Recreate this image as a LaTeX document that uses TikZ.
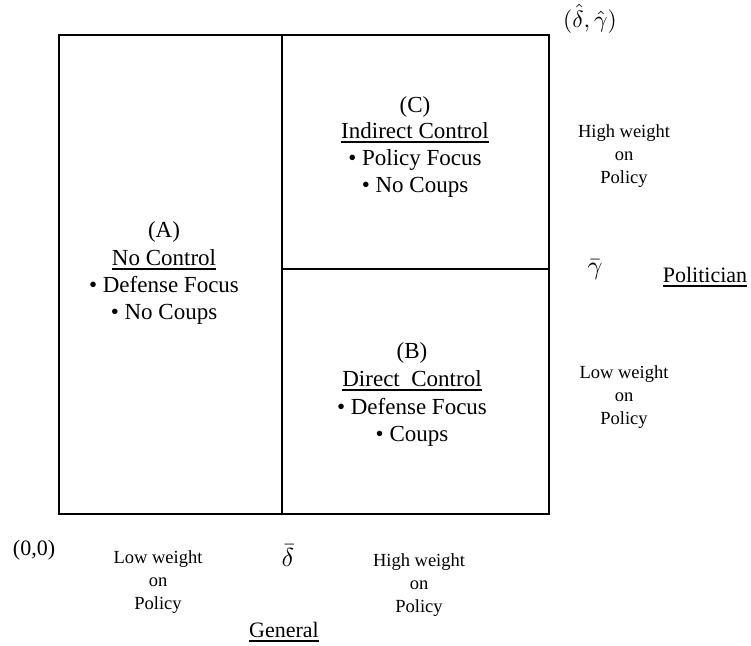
\documentclass[tikz,border=0pt]{standalone}
\usepackage{fontspec}
\setmainfont{Liberation Serif}
\newcommand{\myul}[1]{\leavevmode\setbox0\hbox{#1}\rlap{\vrule height -3pt depth 4.8pt width \wd0}\box0}
\newcommand{\bigmath}[2]{\scalebox{#1}{\fontsize{10}{12}\selectfont$#2$}}
\begin{document}
\begin{tikzpicture}[x=1pt,y=-1pt,
  frame/.style={line width=2pt, line cap=rect},
  big/.style={anchor=base, inner sep=0pt, font=\fontsize{23}{27}\selectfont},
  lab/.style={anchor=base, inner sep=0pt, font=\fontsize{22}{26}\selectfont},
  small/.style={anchor=base, inner sep=0pt, font=\fontsize{18.5}{22}\selectfont}]
\useasboundingbox (0,0) rectangle (751,645);
% frame
\coordinate (tl) at (59,35);
\coordinate (br) at (549,514);
\coordinate (mt) at (282,35);
\coordinate (mb) at (282,514);
\coordinate (hl) at (282,269);
\coordinate (hr) at (549,269);
\draw[frame] (tl) rectangle (br);
\draw[frame] (mt) -- (mb);
\draw[frame] (hl) -- (hr);
% corner label
\node[lab] (top) at (590,27) {\bigmath{2.35}{(\hat{\delta},\hat{\gamma})}};
% box A
\node[big] (a1) at (164,237) {(A)};
\node[big] (a2) at (164,265) {\myul{No Control}};
\node[big] (a3) at (164,292) {•~Defense Focus};
\node[big] (a4) at (164,319) {•~No Coups};
% box C
\node[big] (c1) at (415,112) {(C)};
\node[big] (c2) at (415,138) {\myul{Indirect Control}};
\node[big] (c3) at (415,165) {•~Policy Focus};
\node[big] (c4) at (415,192) {•~No Coups};
% box B
\node[big] (b1) at (412,358) {(B)};
\node[big] (b2) at (412,386) {\myul{Direct\ \ Control}};
\node[big] (b3) at (412,414) {•~Defense Focus};
\node[big] (b4) at (412,441) {•~Coups};
% right side
\node[small] (rh1) at (624,137) {High weight};
\node[small] (rh2) at (624,160) {on};
\node[small] (rh3) at (624,183) {Policy};
\node[lab] (gam) at (595,274) {\bigmath{2.6}{\bar{\gamma}}};
\node[lab] (pol) at (705,282) {\myul{Politician}};
\node[small] (rl1) at (624,378) {Low weight};
\node[small] (rl2) at (624,401) {on};
\node[small] (rl3) at (624,424) {Policy};
% bottom
\node[lab] (orig) at (34,555) {(0,0)};
\node[small] (bl1) at (158,563) {Low weight};
\node[small] (bl2) at (158,586) {on};
\node[small] (bl3) at (158,609) {Policy};
\node[lab] (del) at (288,566) {\bigmath{2.6}{\bar{\delta}}};
\node[small] (bh1) at (419,566) {High weight};
\node[small] (bh2) at (419,589) {on};
\node[small] (bh3) at (419,612) {Policy};
\node[lab] (gen) at (284,637) {\myul{General}};
\end{tikzpicture}
\end{document}
